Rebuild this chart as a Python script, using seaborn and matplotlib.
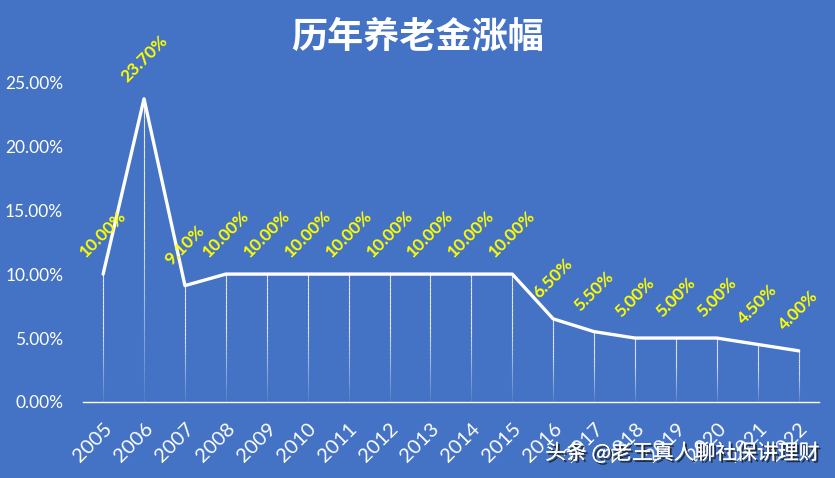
import numpy as np
import seaborn as sns
import matplotlib.pyplot as plt
import matplotlib.patheffects as pe

# data
years = [str(y) for y in range(2005, 2023)]
rates = [10.0, 23.7, 9.1, 10.0, 10.0, 10.0, 10.0, 10.0, 10.0, 10.0, 10.0,
         6.5, 5.5, 5.0, 5.0, 5.0, 4.5, 4.0]
labels = [f"{r:.2f}%" for r in rates]

bg = '#4472C4'
sns.set_style('white')
plt.rcParams['font.family'] = ['Lato', 'Noto Sans CJK SC', 'DejaVu Sans']

fig = plt.figure(figsize=(8.35, 4.78), dpi=100, facecolor=bg)
ax = fig.add_axes([0.099, 0.159, 0.882, 0.669], facecolor=bg)

# drop lines, fading towards the axis
xs = np.arange(len(years))
n = 30
for k in range(n):
    frac0, frac1 = k / n, (k + 1) / n
    a = min(1.0, 0.05 + frac1 * 1.6)
    ax.vlines(xs, np.array(rates) * frac0, np.array(rates) * frac1,
              color='white', linewidth=0.8, alpha=a * 0.85, zorder=1)

# main line
sns.lineplot(x=xs, y=rates, color='white', linewidth=2.4, ax=ax, zorder=3)

# data labels
for x, r, lab in zip(xs, rates, labels):
    ax.annotate(lab, (x, r), xytext=(0, 29), textcoords='offset points',
                ha='center', va='center', rotation=45, color='#FFFF00',
                fontsize=12.5, fontweight='bold', zorder=4)

ax.set_xlim(-0.5, len(years) - 0.5)
ax.set_ylim(0, 25)
ax.set_yticks([0, 5, 10, 15, 20, 25])
ax.set_yticklabels([f"{v:.2f}%" for v in [0, 5, 10, 15, 20, 25]])
ax.set_xticks(xs)
ax.set_xticklabels(years, rotation=45, ha='right', rotation_mode='anchor')
ax.tick_params(axis='both', length=0, colors='white', labelsize=12.5)
ax.tick_params(axis='x', labelsize=14.5, pad=13)
ax.tick_params(axis='y', pad=14)

for s in ['top', 'right', 'left']:
    ax.spines[s].set_visible(False)
ax.spines['bottom'].set_color('white')
ax.spines['bottom'].set_linewidth(1.0)

fig.text(0.5, 0.922, '历年养老金涨幅', ha='center', va='center', color='white',
         fontsize=26, fontweight='bold', family=['Noto Sans CJK SC', 'DejaVu Sans'])

# watermark
fig.text(0.982, 0.052, '头条 @老王真人聊社保讲理财', ha='right', va='center',
         color='white', fontsize=15, family=['Noto Sans CJK SC', 'DejaVu Sans'],
         path_effects=[pe.withSimplePatchShadow(offset=(1.5, -1.5), shadow_rgbFace='#222222', alpha=0.9),
                       pe.Normal()])

fig.savefig('out.png', dpi=100, facecolor=bg)
